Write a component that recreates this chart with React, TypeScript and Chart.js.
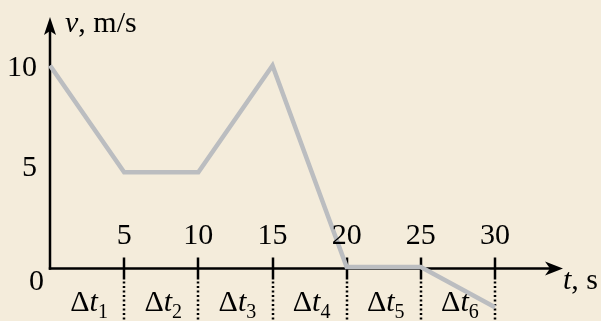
import React, { useEffect, useRef } from "react";
import { Chart, registerables } from "chart.js";

Chart.register(...registerables);

// ---- data ----
const times = [0, 5, 10, 15, 20, 25, 30];
const velocities = [10, 4.7, 4.7, 10, 0, 0, -2];
const xTicks = [5, 10, 15, 20, 25, 30];
const yTicks = [0, 5, 10];
const intervalIndices = ["1", "2", "3", "4", "5", "6"];
const yAxisLabelVar = "v";
const yAxisLabelUnit = ", m/s";
const xAxisLabelVar = "t";
const xAxisLabelUnit = ", s";

const BG = "#f4ecdb";
const LINE = "#bbbdc0";
const INK = "#000000";
const FONT = '"Liberation Serif", serif';

const overlay = {
  id: "overlay",
  beforeDraw(chart: any) {
    const ctx = chart.ctx;
    ctx.save();
    ctx.fillStyle = BG;
    ctx.fillRect(0, 0, chart.width, chart.height);
    ctx.restore();
  },
  beforeDatasetsDraw(chart: any) {
    const ctx = chart.ctx;
    const xs = chart.scales.x;
    const ys = chart.scales.y;
    const x0 = xs.getPixelForValue(0);
    const y0 = ys.getPixelForValue(0) + 1.5;
    ctx.save();
    ctx.strokeStyle = INK;
    ctx.fillStyle = INK;
    ctx.lineWidth = 2.5;
    // y axis
    ctx.beginPath();
    ctx.moveTo(x0, y0 + 1.2);
    ctx.lineTo(x0, 30);
    ctx.stroke();
    // y arrow
    ctx.beginPath();
    ctx.moveTo(x0, 17);
    ctx.lineTo(x0 + 6, 35);
    ctx.lineTo(x0, 31);
    ctx.lineTo(x0 - 6, 35);
    ctx.closePath();
    ctx.fill();
    // x axis
    ctx.beginPath();
    ctx.moveTo(x0 - 1.2, y0);
    ctx.lineTo(550, y0);
    ctx.stroke();
    // x arrow
    ctx.beginPath();
    ctx.moveTo(563, y0);
    ctx.lineTo(545, y0 - 7);
    ctx.lineTo(550, y0);
    ctx.lineTo(545, y0 + 7);
    ctx.closePath();
    ctx.fill();
    // ticks & dotted lines
    xTicks.forEach((t) => {
      const px = Math.round(xs.getPixelForValue(t));
      ctx.setLineDash([]);
      ctx.lineWidth = 2.5;
      ctx.beginPath();
      ctx.moveTo(px, y0 - 11);
      ctx.lineTo(px, y0 + 11);
      ctx.stroke();
      ctx.setLineDash([2, 2.5]);
      ctx.lineWidth = 2.5;
      ctx.beginPath();
      ctx.moveTo(px, y0 + 13);
      ctx.lineTo(px, chart.height);
      ctx.stroke();
    });
    ctx.restore();
  },
  afterDatasetsDraw(chart: any) {
    const ctx = chart.ctx;
    const xs = chart.scales.x;
    const ys = chart.scales.y;
    const x0 = xs.getPixelForValue(0);
    const y0 = ys.getPixelForValue(0) + 1.5;
    ctx.save();
    ctx.fillStyle = INK;
    ctx.textBaseline = "alphabetic";
    const reg = `30px ${FONT}`;
    const ita = `italic 30px ${FONT}`;
    const sub = `20px ${FONT}`;

    // y axis title
    ctx.textAlign = "left";
    ctx.font = ita;
    ctx.fillText(yAxisLabelVar, x0 + 15, 32);
    const vw = ctx.measureText(yAxisLabelVar).width;
    ctx.font = reg;
    ctx.fillText(yAxisLabelUnit, x0 + 15 + vw, 32);

    // x axis title
    ctx.font = ita;
    ctx.fillText(xAxisLabelVar, 563, y0 + 20);
    const tw = ctx.measureText(xAxisLabelVar).width;
    ctx.font = reg;
    ctx.fillText(xAxisLabelUnit, 563 + tw, y0 + 20);

    // y tick labels
    ctx.font = reg;
    ctx.textAlign = "right";
    yTicks.forEach((v) => {
      const py = ys.getPixelForValue(v);
      if (v === 0) {
        ctx.fillText(String(v), x0 - 6, y0 + 21);
      } else {
        ctx.fillText(String(v), x0 - 13, py + 10);
      }
    });

    // x tick labels
    ctx.textAlign = "center";
    xTicks.forEach((t) => {
      const px = xs.getPixelForValue(t);
      ctx.fillText(String(t), px, y0 - 25);
    });

    // interval labels
    ctx.textAlign = "left";
    const bounds = [0, ...xTicks];
    intervalIndices.forEach((idx, i) => {
      const a = xs.getPixelForValue(bounds[i]);
      const b = xs.getPixelForValue(bounds[i + 1]);
      const mid = (a + b) / 2 + 2;
      ctx.font = reg;
      const dw = ctx.measureText("\u0394").width;
      ctx.font = ita;
      const tw2 = ctx.measureText("t").width;
      ctx.font = sub;
      const sw = ctx.measureText(idx).width;
      const total = dw + tw2 + sw;
      let x = mid - total / 2;
      const base = y0 + 42;
      ctx.font = reg;
      ctx.fillText("\u0394", x, base);
      x += dw;
      ctx.font = ita;
      ctx.fillText("t", x, base);
      x += tw2;
      ctx.font = sub;
      ctx.fillText(idx, x, base + 7);
    });
    ctx.restore();
  },
};

export default function App() {
  const ref = useRef<HTMLCanvasElement | null>(null);
  useEffect(() => {
    let chart: any = null;
    let cancelled = false;
    const make = () => {
      if (cancelled || !ref.current) return;
      chart = new Chart(ref.current, {
        type: "scatter",
        data: {
          datasets: [
            {
              data: times.map((t, i) => ({ x: t, y: velocities[i] })),
              showLine: true,
              borderColor: LINE,
              borderWidth: 4.5,
              borderJoinStyle: "miter",
              pointRadius: 0,
              pointHoverRadius: 0,
              clip: false as any,
              tension: 0,
            } as any,
          ],
        },
        options: {
          animation: false,
          responsive: false,
          devicePixelRatio: 1,
          layout: { padding: { left: 50, right: 106, top: 65.5, bottom: 13.7 } },
          scales: {
            x: { type: "linear", min: 0, max: 30, display: false },
            y: { type: "linear", min: -2, max: 10, display: false },
          },
          plugins: {
            legend: { display: false },
            tooltip: { enabled: false },
          },
          events: [],
        },
        plugins: [overlay],
      });
    };
    const fonts: any = (document as any).fonts;
    if (fonts && fonts.load) {
      Promise.all([
        fonts.load(`30px ${FONT}`, "0123456789Δ,ms/"),
        fonts.load(`italic 30px ${FONT}`, "vt"),
      ])
        .catch(() => null)
        .then(make);
    } else {
      make();
    }
    return () => {
      cancelled = true;
      if (chart) chart.destroy();
    };
  }, []);
  return (
    <div style={{ position: "fixed", left: 0, top: 0, width: 601, height: 321, background: BG }}>
      <span style={{ fontFamily: FONT, position: "absolute", left: -1000, top: 0 }}>
        0 <i>vt</i>
      </span>
      <canvas ref={ref} width={601} height={321} style={{ display: "block" }} />
    </div>
  );
}
